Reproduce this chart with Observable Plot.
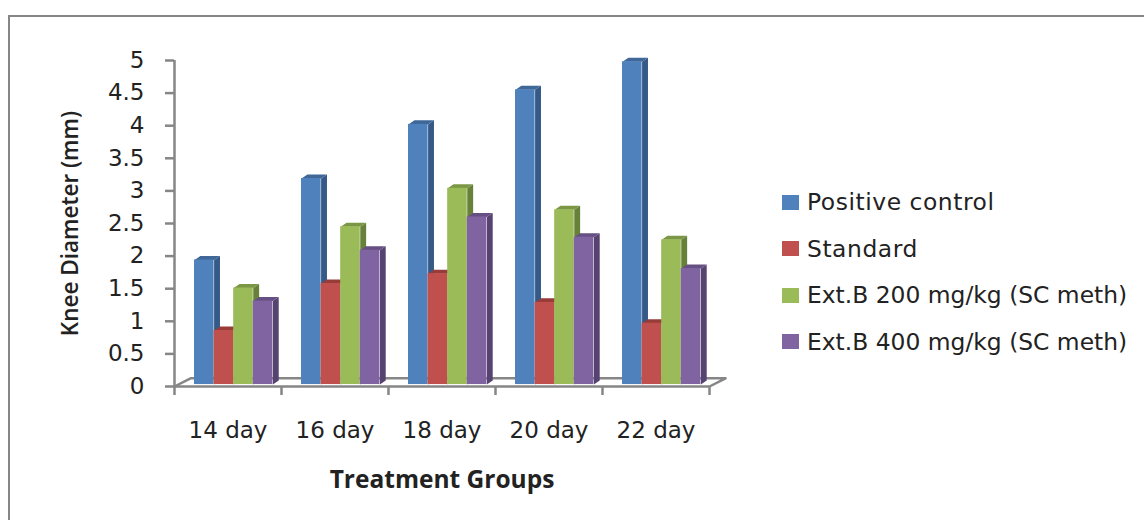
<!DOCTYPE html>
<html>
<head>
<meta charset="utf-8">
<script src="https://cdn.jsdelivr.net/npm/d3@7"></script>
<script src="https://cdn.jsdelivr.net/npm/@observablehq/plot@0.6"></script>
<style>
  html, body { margin: 0; padding: 0; background: #fff; overflow: hidden; }
  #stage { position: relative; width: 1144px; height: 520px; overflow: hidden; }
  #frame { position: absolute; left: 8px; top: 15px; width: 1200px; height: 600px; border: 2.5px solid #868686; box-sizing: border-box; }
  #chart { position: absolute; left: 0; top: 0; }
  #legend { position: absolute; left: 782px; top: 179px; font-family: "DejaVu Sans", sans-serif; font-size: 23.4px; color: #222; }
  #legend div { display: flex; align-items: center; height: 46.5px; white-space: nowrap; }
  #legend div:nth-child(-n+2) { letter-spacing: 0.55px; }
  #legend i { display: block; width: 17px; height: 15px; margin-right: 8px; }
</style>
</head>
<body>
<div id="stage">
  <div id="frame"></div>
  <div id="chart"></div>
  <div id="legend"></div>
</div>
<script>
const days = ["14 day", "16 day", "18 day", "20 day", "22 day"];
const seriesNames = ["Positive control", "Standard", "Ext.B 200 mg/kg (SC meth)", "Ext.B 400 mg/kg (SC meth)"];
const positiveControl = [1.91, 3.16, 3.99, 4.52, 4.95];
const standard = [0.83, 1.55, 1.70, 1.26, 0.94];
const extB200 = [1.48, 2.42, 3.01, 2.68, 2.22];
const extB400 = [1.28, 2.06, 2.57, 2.26, 1.78];
const frontColors = ["#4f81bd", "#c0504d", "#9bbb59", "#8064a2"];
const sideColors = ["#355a87", "#7f3532", "#67803a", "#574371"];
const topColors = ["#3f6797", "#983c39", "#7b9746", "#664f82"];

const seriesValues = [positiveControl, standard, extB200, extB400];

// Oblique projection of the clustered bars, in category and value units.
const axisGray = "#868686";
const clusterInset = 0.187, barWidth = 0.183;
const depthX = 0.055, depthY = 0.062, floorLift = 0.03;
const floorX = 0.15, floorY = 0.125;

const bars = days.flatMap((day, d) => seriesValues.map((values, s) => {
  const x1 = d + clusterInset + s * barWidth;
  return {id: `${d}-${s}`, s, x1, x2: x1 + barWidth, y1: floorLift, y2: floorLift + values[d]};
}));

// Each bar contributes a top and a side parallelogram, painted left to right.
const faces = bars.flatMap(b => [
  [`${b.id}-side`, sideColors[b.s], [[b.x2, b.y1], [b.x2, b.y2], [b.x2 + depthX, b.y2 + depthY], [b.x2 + depthX, b.y1 + depthY]]],
  [`${b.id}-top`, topColors[b.s], [[b.x1, b.y2], [b.x1 + depthX, b.y2 + depthY], [b.x2 + depthX, b.y2 + depthY], [b.x2, b.y2]]]
]).flatMap(([face, color, pts]) => pts.map(([x, y]) => ({face, color, x, y})));

const n = days.length;
const floorOutline = [[0, 0], [floorX, floorY], [n + floorX, floorY], [n, 0]].map(([x, y]) => ({x, y}));

const fontFace = "DejaVu Sans";
const plot = Plot.plot({
  width: 1144, height: 520,
  marginLeft: 174, marginRight: 435, marginTop: 60, marginBottom: 134,
  style: {background: "transparent", fontFamily: fontFace, fontSize: "23px", color: "#222"},
  x: {domain: [0, n], label: null},
  y: {domain: [0, 5], label: null},
  color: {type: "identity"},
  marks: [
    Plot.line(floorOutline, {x: "x", y: "y", stroke: axisGray, strokeWidth: 2.5}),
    Plot.ruleX([0], {y1: 0, y2: 5, stroke: axisGray, strokeWidth: 2.5}),
    Plot.ruleY([0], {stroke: axisGray, strokeWidth: 2.5}),
    Plot.line(faces, {x: "x", y: "y", z: "face", fill: "color", stroke: "none"}),
    Plot.rectY(bars, {x1: "x1", x2: "x2", y1: "y1", y2: "y2", fill: d => frontColors[d.s], inset: 0}),
    Plot.axisY({
      ticks: d3.range(0, 5.5, 0.5), tickFormat: d => String(d), tickSize: 9, tickPadding: 21,
      stroke: axisGray, strokeWidth: 2.5, fontSize: 23, fill: "#222",
      label: "Knee Diameter (mm)", labelAnchor: "center", labelArrow: "none", labelOffset: 112
    }),
    Plot.axisX({ticks: d3.range(0, n + 1), tickFormat: () => "", tickSize: 9, stroke: axisGray, strokeWidth: 2.5, label: null}),
    Plot.axisX({
      ticks: days.map((_, i) => i + 0.5), tickFormat: v => days[v - 0.5], tickSize: 0, tickPadding: 35,
      fontSize: 23, fill: "#222",
      label: "Treatment Groups", labelAnchor: "center", labelArrow: "none", labelOffset: 101
    })
  ]
});
document.getElementById("chart").append(plot);

// Axis titles are set heavier and in a humanist face.
d3.select(plot).selectAll("[aria-label='y-axis label'] text")
  .style("font-family", "'Open Sans'").style("font-weight", "600").style("font-size", "22.5px");
d3.select(plot).selectAll("[aria-label='x-axis label'] text")
  .style("font-family", "'Open Sans'").style("font-weight", "700").style("font-size", "24.5px");

const legend = d3.select("#legend");
seriesNames.forEach((name, i) => {
  const row = legend.append("div");
  row.append("i").style("background", frontColors[i]);
  row.append("span").text(name);
});
</script>
</body>
</html>
